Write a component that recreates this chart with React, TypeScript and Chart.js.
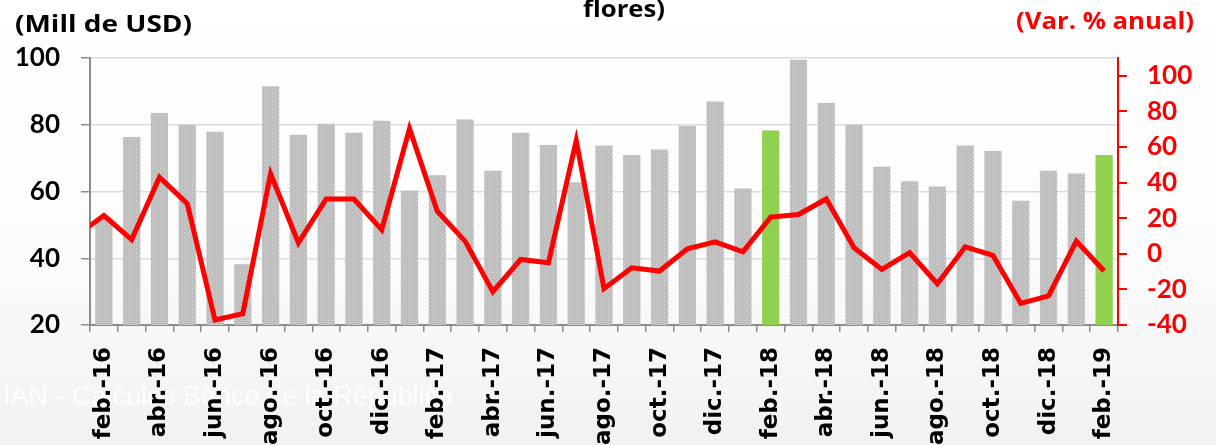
import React, { useEffect, useRef } from 'react';
import { Chart, registerables } from 'chart.js';

Chart.register(...registerables);

// Categories (ene.-16 lies just left of the visible axis; only its line segment shows)
const months: string[] = [
  'ene.-16', 'feb.-16', 'mar.-16', 'abr.-16', 'may.-16', 'jun.-16', 'jul.-16', 'ago.-16', 'sep.-16', 'oct.-16', 'nov.-16', 'dic.-16',
  'ene.-17', 'feb.-17', 'mar.-17', 'abr.-17', 'may.-17', 'jun.-17', 'jul.-17', 'ago.-17', 'sep.-17', 'oct.-17', 'nov.-17', 'dic.-17',
  'ene.-18', 'feb.-18', 'mar.-18', 'abr.-18', 'may.-18', 'jun.-18', 'jul.-18', 'ago.-18', 'sep.-18', 'oct.-18', 'nov.-18', 'dic.-18',
  'ene.-19', 'feb.-19',
];

// Exports value (Mill de USD), left axis
const exportValues: (number | null)[] = [
  null, 52, 76.3, 83.5, 80, 77.9, 38.2, 91.5, 77, 80.3, 77.6, 81.2,
  60.3, 64.9, 81.6, 66.2, 77.6, 73.9, 62.8, 73.8, 70.9, 72.6, 79.6, 87.0,
  60.9, 78.3, 99.5, 86.5, 80.0, 67.4, 63.1, 61.5, 73.8, 72.1, 57.2, 66.2,
  65.4, 70.9,
];

// Annual % change, right axis
const annualChange: number[] = [
  10, 21.5, 8.0, 43.0, 28.2, -37.2, -33.6, 45.0, 6.2, 30.8, 30.8, 13.6,
  70.3, 23.9, 7.1, -21.3, -3.2, -5.0, 63.6, -19.6, -7.9, -9.7, 2.8, 6.7,
  1.1, 20.6, 22.1, 30.8, 3.4, -8.8, 0.6, -16.8, 3.9, -0.9, -27.9, -23.7,
  7.1, -9.7,
];

const highlighted: string[] = ['feb.-18', 'feb.-19'];
const firstVisible = 'feb.-16';

const leftTicks: number[] = [20, 40, 60, 80, 100];
const rightTicks: number[] = [-40, -20, 0, 20, 40, 60, 80, 100];

const leftTitle = '(Mill de USD)';
const rightTitle = '(Var. % anual)';
const topTitle = 'flores)';
const sourceText = 'IAN - Cálculos Banco de la República';

const W = 1216;
const H = 445;

function makePattern(): CanvasPattern | string {
  const c = document.createElement('canvas');
  c.width = 4;
  c.height = 4;
  const g = c.getContext('2d');
  if (!g) return '#c4c4c4';
  g.fillStyle = '#bdbdbd';
  g.fillRect(0, 0, 4, 4);
  g.fillStyle = '#dadada';
  g.fillRect(0, 0, 1, 1);
  g.fillRect(2, 2, 1, 1);
  const p = g.createPattern(c, 'repeat');
  return p || '#c4c4c4';
}

function drawStretched(
  ctx: CanvasRenderingContext2D,
  text: string,
  x: number,
  y: number,
  targetW: number,
  color: string,
  font: string
) {
  ctx.save();
  ctx.font = font;
  ctx.fillStyle = color;
  ctx.textAlign = 'left';
  ctx.textBaseline = 'alphabetic';
  const w = ctx.measureText(text).width;
  const s = targetW / w;
  ctx.translate(x, y);
  ctx.scale(s, 1);
  ctx.fillText(text, 0, 0);
  ctx.restore();
}

export default function App() {
  const ref = useRef<HTMLCanvasElement | null>(null);

  useEffect(() => {
    document.body.style.margin = '0';
    const canvas = ref.current;
    if (!canvas) return;
    const pattern = makePattern();
    const barColors = months.map((m) => (highlighted.includes(m) ? '#92d050' : pattern));

    const decor = {
      id: 'decor',
      beforeDraw(chart: any) {
        const ctx = chart.ctx as CanvasRenderingContext2D;
        ctx.save();
        const grad = ctx.createLinearGradient(0, 0, 0, H);
        grad.addColorStop(0, '#ffffff');
        grad.addColorStop(0.55, '#fcfcfc');
        grad.addColorStop(1, '#f1f1f1');
        ctx.fillStyle = grad;
        ctx.fillRect(0, 0, W, H);
        ctx.font = '27px "Liberation Sans", Arial, sans-serif';
        ctx.fillStyle = 'rgba(255,255,255,0.85)';
        ctx.textBaseline = 'alphabetic';
        ctx.fillText(sourceText, 3, 405);
        ctx.restore();
      },
      afterDraw(chart: any) {
        const ctx = chart.ctx as CanvasRenderingContext2D;
        const f = 'bold 24px "Open Sans", sans-serif';
        drawStretched(ctx, leftTitle, 15, 32, 177, '#000000', f);
        drawStretched(ctx, rightTitle, 1016, 29, 178, '#ff0000', f);
        drawStretched(ctx, topTitle, 583, 17, 82, '#000000', f);
      },
    };

    const chart = new Chart(canvas, {
      type: 'bar',
      data: {
        labels: months,
        datasets: [
          {
            type: 'line',
            label: 'Var. % anual',
            data: annualChange,
            yAxisID: 'y1',
            borderColor: '#ff0000',
            backgroundColor: '#ff0000',
            borderWidth: 5,
            pointRadius: 0,
            tension: 0,
            order: 0,
            clip: 0,
          } as any,
          {
            type: 'bar',
            label: 'Mill de USD',
            data: exportValues,
            yAxisID: 'y',
            backgroundColor: barColors as any,
            borderWidth: 0,
            categoryPercentage: 1,
            barPercentage: 0.62,
            order: 1,
          } as any,
        ],
      },
      options: {
        responsive: false,
        animation: false,
        devicePixelRatio: 1,
        layout: { padding: { top: 58, left: 0, right: 0, bottom: 0 } },
        plugins: {
          legend: { display: false },
          title: { display: false },
          tooltip: { enabled: false },
        },
        scales: {
          x: {
            type: 'category',
            min: firstVisible,
            offset: true,
            grid: {
              offset: true,
              drawOnChartArea: false,
              drawTicks: true,
              tickLength: 7,
              color: '#8c8c8c',
              lineWidth: 1.5,
            },
            border: { display: true, color: '#8c8c8c', width: 2 },
            ticks: {
              autoSkip: false,
              maxRotation: 90,
              minRotation: 90,
              padding: 15,
              color: '#000000',
              font: { family: '"DejaVu Sans", sans-serif', weight: 'bold', size: 23 },
              callback: (value: any) => {
                const i = Number(value);
                return i % 2 === 1 ? months[i] : '';
              },
            },
            afterFit: (scale: any) => {
              scale.height = 120;
            },
          },
          y: {
            type: 'linear',
            position: 'left',
            min: leftTicks[0],
            max: leftTicks[leftTicks.length - 1],
            afterBuildTicks: (scale: any) => {
              scale.ticks = leftTicks.map((v) => ({ value: v }));
            },
            grid: {
              color: '#dcdcdc',
              lineWidth: 1.5,
              tickColor: '#8c8c8c',
              tickLength: 9,
            },
            border: { display: true, color: '#8c8c8c', width: 2 },
            ticks: {
              padding: 21,
              color: '#000000',
              font: { family: 'Lato, sans-serif', weight: 'bold', size: 26 },
            },
            afterFit: (scale: any) => {
              scale.width = 90;
            },
          },
          y1: {
            type: 'linear',
            position: 'right',
            min: -40,
            max: 110,
            afterBuildTicks: (scale: any) => {
              scale.ticks = rightTicks.map((v) => ({ value: v }));
            },
            grid: {
              drawOnChartArea: false,
              color: '#ff0000',
              tickLength: 9,
              lineWidth: 2,
            },
            border: { display: true, color: '#ff0000', width: 2 },
            ticks: {
              padding: 20,
              color: '#ff0000',
              font: { family: 'Lato, sans-serif', weight: 'bold', size: 26 },
            },
            afterFit: (scale: any) => {
              scale.width = 98;
            },
          },
        },
      },
      plugins: [decor],
    });

    return () => {
      chart.destroy();
    };
  }, []);

  return (
    <div style={{ width: W, height: H, position: 'relative' }}>
      <canvas ref={ref} width={W} height={H} style={{ display: 'block', width: W, height: H }} />
    </div>
  );
}
